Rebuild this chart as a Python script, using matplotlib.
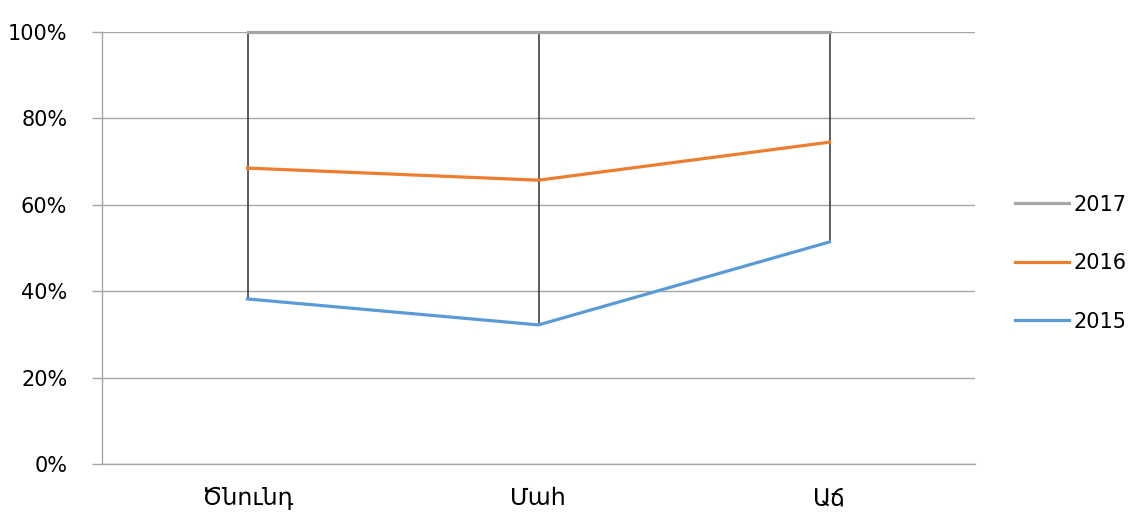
import matplotlib

matplotlib.use("Agg")
import matplotlib.pyplot as plt
from matplotlib.ticker import PercentFormatter

# categories (Armenian): birth, death, growth
categories = ["Ծնունդ", "Մահ", "Աճ"]

# cumulative (100% stacked) positions
y2015 = [38.2, 32.2, 51.4]
y2016 = [68.5, 65.7, 74.5]
y2017 = [100.0, 100.0, 100.0]

colors = {"2015": "#5b9bd5", "2016": "#ed7d31", "2017": "#a5a5a5"}
grid_color = "#a6a6a6"

plt.rcParams["font.family"] = ["DejaVu Sans"]

fig = plt.figure(figsize=(11.35, 5.18), dpi=100)
ax = fig.add_axes([102 / 1135, 1 - 464 / 518, 873 / 1135, 432 / 518])

xs = range(len(categories))

# high-low lines
ax.vlines(xs, y2015, y2017, color="#303030", linewidth=1.1, zorder=3, clip_on=False)

l17, = ax.plot(xs, y2017, color=colors["2017"], linewidth=2.3, label="2017", zorder=4, clip_on=False)
l16, = ax.plot(xs, y2016, color=colors["2016"], linewidth=2.3, label="2016", zorder=4)
l15, = ax.plot(xs, y2015, color=colors["2015"], linewidth=2.3, label="2015", zorder=4)

ax.set_xlim(-0.5, len(categories) - 0.5)
ax.set_ylim(0, 100)
ax.set_yticks(range(0, 101, 20))
ax.yaxis.set_major_formatter(PercentFormatter(decimals=0))
ax.grid(axis="y", color=grid_color, linewidth=1.0)
ax.axhline(0, color=grid_color, linewidth=1.0, clip_on=False, zorder=1)
ax.set_axisbelow(True)

for side in ("top", "right", "bottom"):
    ax.spines[side].set_visible(False)
ax.spines["left"].set_color(grid_color)
ax.spines["left"].set_linewidth(1.0)

ax.tick_params(axis="y", length=7, width=1.0, color=grid_color, labelsize=15, pad=18)
ax.tick_params(axis="x", length=0, pad=16)
ax.set_xticks(list(xs))
ax.set_xticklabels(categories, fontsize=17)

ax.legend(
    handles=[l17, l16, l15],
    loc="center left",
    bbox_to_anchor=(1.046, 0.465),
    frameon=False,
    fontsize=15,
    handlelength=2.6,
    handletextpad=0.2,
    labelspacing=1.85,
    borderpad=0,
    borderaxespad=0,
)

fig.savefig("out.png", dpi=100)
plt.close(fig)
